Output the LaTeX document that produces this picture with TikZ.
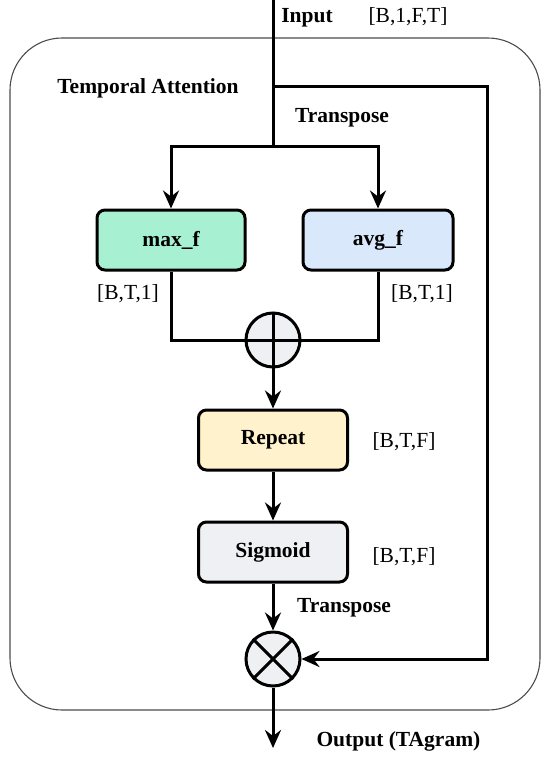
\documentclass[tikz,border=0pt]{standalone}
\usepackage{fontspec}
\setmainfont{Liberation Serif}
\usetikzlibrary{arrows.meta}
\definecolor{mint}{HTML}{A8F0D2}
\definecolor{skyb}{HTML}{DAE8FC}
\definecolor{cream}{HTML}{FFF2CC}
\definecolor{pale}{HTML}{EFF0F3}
\begin{document}
\begin{tikzpicture}[x=1pt,y=-1pt,font=\fontsize{21.5}{26}\selectfont,
  line width=3pt,>={Stealth[length=18pt,width=16pt,inset=6pt]},
  post/.style={->,line width=3pt},
  box/.style={draw,rounded corners=8pt,minimum width=149pt,minimum height=60pt,font=\fontsize{21.5}{26}\selectfont\bfseries},
  op/.style={draw,circle,fill=pale,minimum size=54pt,inner sep=0pt},
  lab/.style={inner sep=0pt,text height=1.45ex,text depth=.3ex}]

\useasboundingbox (0,0) rectangle (550,758);
\draw [line width=1.1pt,color=black!70,rounded corners=52pt] (10,38) rectangle (540,710);

\node [lab,font=\fontsize{21.5}{26}\selectfont\bfseries] (tin) at (307,20) {Input};
\node [lab] (tdim) at (408,20) {[B,1,F,T]};
\node [lab,font=\fontsize{21.5}{26}\selectfont\bfseries] (tatt) at (148,91) {Temporal Attention};
\node [lab,font=\fontsize{21.5}{26}\selectfont\bfseries] (ttr1) at (342,120) {Transpose};
\node [lab,font=\fontsize{21.5}{26}\selectfont\bfseries] (ttr2) at (344,610) {Transpose};

\node [box,fill=mint,minimum width=148pt] (maxf) at (171,240) {max\_f};
\node [box,fill=skyb,minimum width=150pt] (avgf) at (378,240) {avg\_f};
\node [box,fill=cream] (rep) at (273,440) {Repeat};
\node [box,fill=pale] (sig) at (273,552) {Sigmoid};

\node [op] (add) at (273,340) {};
\node [op] (mul) at (273,659) {};

\node [lab] (dmax) at (128,297) {[B,T,1]};
\node [lab] (davg) at (422,297) {[B,T,1]};
\node [lab] (drep) at (404,445) {[B,T,F]};
\node [lab] (dsig) at (404,560) {[B,T,F]};
\node [lab,anchor=west,font=\fontsize{21.5}{26}\selectfont\bfseries] (tout) at (315,744) {Output (TAgram)};

\coordinate (in) at (273,0);
\coordinate (split) at (273,86);
\coordinate (fork) at (273,146);
\coordinate (rt) at (487,86);
\coordinate (out) at (273,748);

% input and the two branches
\draw (in) -- (fork);
\foreach \b in {maxf,avgf}{
\draw [post] (fork) -| (\b.north);
}
\draw (maxf.south) |- (add.west) -- (add.east) -| (avgf.south);
\draw (add.north) -- (add.south);

% main path
\draw [post] (add) -- (rep);
\draw [post] (rep) -- (sig);
\draw [post] (sig) -- (mul);
\draw [post] (split) -- (rt) |- (mul);
\draw (mul.north west) -- (mul.south east);
\draw (mul.north east) -- (mul.south west);
\draw [post] (mul) -- (out);

\end{tikzpicture}
\end{document}
